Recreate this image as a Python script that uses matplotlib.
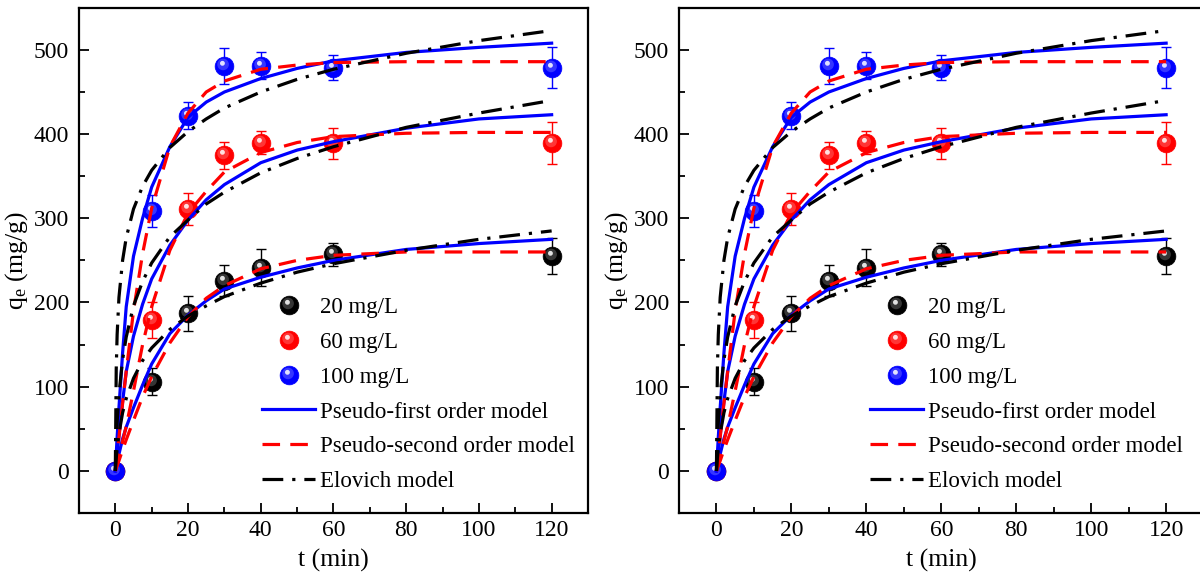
import matplotlib
matplotlib.use('Agg')
import matplotlib.pyplot as plt
import numpy as np
from matplotlib.path import Path
from matplotlib.lines import Line2D
from matplotlib.ticker import MultipleLocator, AutoMinorLocator
from matplotlib.colors import to_rgb

plt.rcParams['font.family'] = ['Liberation Serif', 'DejaVu Serif']
plt.rcParams['mathtext.default'] = 'regular'
plt.rcParams['font.size'] = 16.5

# experimental points
t_exp = [0, 10, 20, 30, 40, 60, 120]
q_20 = [0, 106, 187, 226, 241, 257, 255]
q_60 = [0, 179, 311, 375, 390, 389, 389]
q_100 = [0, 309, 422, 481, 481, 479, 479]
err_20 = [0, 16, 21, 18, 22, 14, 21]
err_60 = [0, 21, 19, 16, 14, 18, 25]
err_100 = [0, 19, 16, 21, 16, 15, 24]

# model curves
t_fit = [0, 0.25, 0.5, 1, 2, 3, 5, 7.5, 10, 15, 20, 25, 30, 40, 50, 60, 80, 100, 120]
pfo_20 = [0, 5, 10, 20, 38, 52, 75, 102, 127, 163, 185, 202, 216, 230, 241, 250, 263, 270, 275]
pfo_60 = [0, 10, 21, 42, 82, 118, 160, 198, 228, 268, 298, 322, 340, 366, 381, 391, 407, 418, 423]
pfo_100 = [0, 20, 40, 75, 140, 195, 255, 300, 337, 385, 420, 438, 450, 466, 478, 487, 497, 503, 508]
pso_20 = [0, 3, 6, 12, 25, 37, 60, 88, 112, 152, 183, 205, 220, 240, 250, 256, 260, 260, 260]
pso_60 = [0, 4, 9, 18, 35, 53, 95, 150, 195, 262, 306, 332, 355, 378, 390, 397, 401, 402, 402]
pso_100 = [0, 10, 20, 40, 80, 118, 190, 258, 312, 385, 425, 450, 463, 477, 482, 485, 486, 486, 486]
elo_20 = [0, 15, 26, 44, 69, 86, 110, 131, 146, 168, 184, 196, 207, 223, 236, 246, 262, 275, 285]
elo_60 = [0, 34, 58, 91, 132, 159, 196, 225, 247, 278, 298, 317, 331, 354, 371, 385, 408, 425, 440]
elo_100 = [0, 121, 162, 206, 250, 277, 311, 338, 357, 384, 403, 418, 431, 450, 465, 477, 496, 511, 523]

conc_labels = ['20 mg/L', '60 mg/L', '100 mg/L']
model_labels = ['Pseudo-first order model', 'Pseudo-second order model', 'Elovich model']
colors = ['#000000', '#ff0000', '#0000ff']

# small offset circle used as the shine on the balls
def spot(cx, cy, r):
    c = Path.circle((cx, cy), r)
    frame = Path([(1, 1), (-1, -1)], [Path.MOVETO, Path.MOVETO])
    return Path.make_compound_path(c, frame)

glow = spot(-0.15, 0.22, 0.62)
shine = spot(-0.22, 0.34, 0.26)
ms = 13.5


def lighter(c, f):
    r, g, b = to_rgb(c)
    return (r + (1 - r) * f, g + (1 - g) * f, b + (1 - b) * f)


def ball(ax, x, y, c):
    h1 = ax.plot(x, y, 'o', ms=ms, color=c, mec=c, mew=0.5, ls='none', zorder=3)[0]
    h2 = ax.plot(x, y, marker=glow, ms=ms, color=lighter(c, 0.35), mew=0, ls='none', alpha=0.6, zorder=3)[0]
    h3 = ax.plot(x, y, marker=shine, ms=ms, color='white', mew=0, ls='none', alpha=0.85, zorder=3)[0]
    return (h1, h2, h3)


def draw(ax, leg_x):
    handles = []
    for q, e, c in zip([q_20, q_60, q_100], [err_20, err_60, err_100], colors):
        ax.errorbar(t_exp, q, yerr=e, fmt='none', ecolor=c, elinewidth=1, capsize=3.5, capthick=1, zorder=2)
        handles.append(ball(ax, t_exp, q, c))
    for q in [pfo_20, pfo_60, pfo_100]:
        l1, = ax.plot(t_fit, q, color='#0000ff', lw=2.3, zorder=4)
    for q in [pso_20, pso_60, pso_100]:
        l2, = ax.plot(t_fit, q, color='#ff0000', lw=2.3, ls=(0, (5.5, 3.2)), zorder=4)
    for q in [elo_20, elo_60, elo_100]:
        l3, = ax.plot(t_fit, q, color='#000000', lw=2.3, ls=(0, (6.5, 2.8, 1, 2.8)), zorder=4)
    handles += [l1, l2, l3]

    ax.set_xlim(-10, 130)
    ax.set_ylim(-50, 550)
    ax.xaxis.set_major_locator(MultipleLocator(20))
    ax.xaxis.set_minor_locator(AutoMinorLocator(2))
    ax.yaxis.set_major_locator(MultipleLocator(100))
    ax.yaxis.set_minor_locator(AutoMinorLocator(2))
    ax.tick_params(which='both', direction='in', width=1.3, labelsize=17)
    ax.tick_params(which='major', length=7.5)
    ax.tick_params(which='minor', length=4.5)
    ax.tick_params(axis='y', pad=7)
    ax.tick_params(axis='x', pad=5)
    for s in ax.spines.values():
        s.set_linewidth(1.6)
    ax.set_xlabel('t (min)', labelpad=6, fontsize=18.5)
    ax.set_ylabel('q$_e$ (mg/g)', labelpad=3, fontsize=18.5)

    ax.legend(handles, conc_labels + model_labels, loc='upper left',
              bbox_to_anchor=(leg_x, 0.45), frameon=False, borderpad=0,
              handlelength=2.3, handletextpad=0.2, labelspacing=0.6,
              fontsize=16.5)


fig = plt.figure(figsize=(12, 5.82), dpi=100)
ax1 = fig.add_axes([0.0658, 0.1186, 0.4242, 0.868])
ax2 = fig.add_axes([0.5658, 0.1186, 0.4372, 0.868])
draw(ax1, 0.338)
draw(ax2, 0.343)

fig.savefig('out.png', dpi=100)
